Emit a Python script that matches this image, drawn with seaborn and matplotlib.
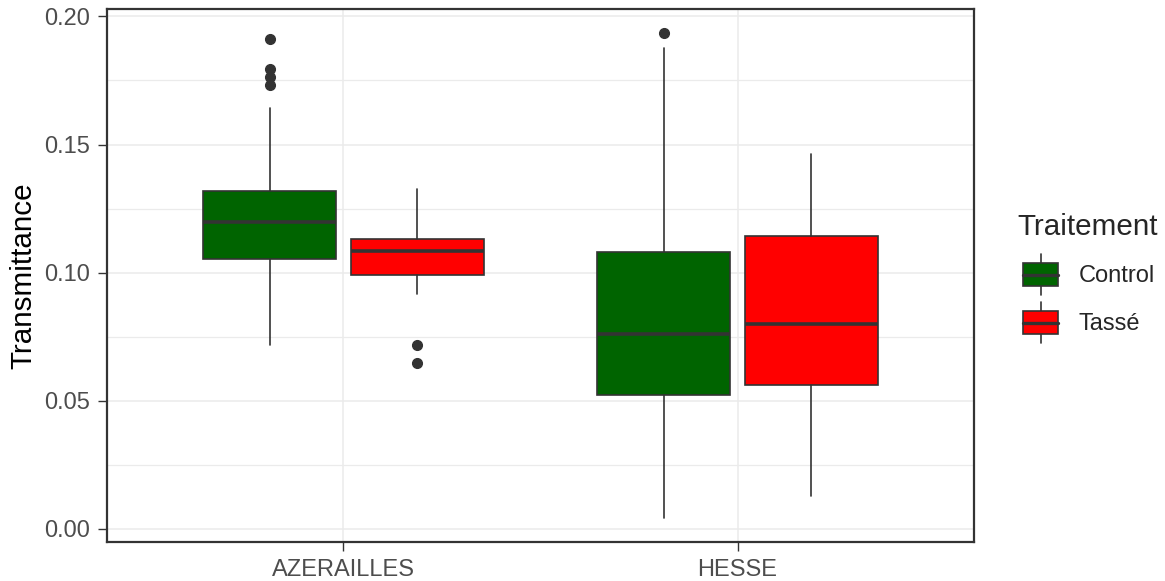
import matplotlib
matplotlib.use("Agg")
import matplotlib.pyplot as plt
import seaborn as sns
from matplotlib.legend_handler import HandlerBase
from matplotlib.patches import Rectangle, Patch
from matplotlib.lines import Line2D
from matplotlib.ticker import MultipleLocator, FormatStrFormatter

# --- data (one summary per site x treatment) ---
sites = ["AZERAILLES", "HESSE"]
treatments = ["Control", "Tassé"]
box_colors = ["#006400", "#FF0000"]

# [site][treatment]
whislo = [[0.0717, 0.0916], [0.0043, 0.0130]]
q1 = [[0.1055, 0.0991], [0.0521, 0.0561]]
med = [[0.1198, 0.1086], [0.0760, 0.0800]]
q3 = [[0.1320, 0.1130], [0.1082, 0.1143]]
whishi = [[0.1642, 0.1328], [0.1876, 0.1464]]
fliers = [
    [[0.1913, 0.1796, 0.1763, 0.1734], [0.0719, 0.0647]],
    [[0.1936], []],
]

LINE = "#333333"
GRID = "#EBEBEB"

sns.set_theme(style="whitegrid")
plt.rcParams["font.family"] = ["Liberation Sans", "DejaVu Sans"]


class BoxKey(HandlerBase):
    """ggplot-like boxplot legend key, sized from the font size."""

    def create_artists(self, legend, orig_handle, xdescent, ydescent,
                       width, height, fontsize, trans):
        x0, y0 = -xdescent, -ydescent
        cx = x0 + width / 2
        cy = y0 + height / 2
        wh = 0.86 * fontsize   # half whisker span
        bh = 0.5 * fontsize    # half box height
        fc = orig_handle.get_facecolor()
        lo = Line2D([cx, cx], [cy - wh, cy - bh], color=LINE, lw=1.2,
                    transform=trans)
        hi = Line2D([cx, cx], [cy + bh, cy + wh], color=LINE, lw=1.2,
                    transform=trans)
        box = Rectangle((x0 + 0.125 * width, cy - bh), 0.75 * width, 2 * bh,
                        facecolor=fc, edgecolor=LINE, lw=1.2, transform=trans)
        mid = Line2D([x0 + 0.125 * width, x0 + 0.875 * width], [cy, cy],
                     color=LINE, lw=2.4, transform=trans)
        return [lo, hi, box, mid]


fig = plt.figure(figsize=(11.65, 5.81), dpi=100)
ax = fig.add_axes([107 / 1165, 1 - 542 / 581, (974 - 107) / 1165, (542 - 9) / 581])

dodge = 0.1875
stats, positions, facecolors = [], [], []
for i, site in enumerate(sites):
    for j, trt in enumerate(treatments):
        stats.append({
            "whislo": whislo[i][j], "q1": q1[i][j], "med": med[i][j],
            "q3": q3[i][j], "whishi": whishi[i][j], "fliers": fliers[i][j],
            "label": f"{site} {trt}",
        })
        positions.append(i + (j * 2 - 1) * dodge)
        facecolors.append(box_colors[j])

bp = ax.bxp(
    stats, positions=positions, widths=0.3375, patch_artist=True,
    showcaps=False, manage_ticks=False,
    boxprops=dict(edgecolor=LINE, linewidth=1.2),
    medianprops=dict(color=LINE, linewidth=2.6, solid_capstyle="butt"),
    whiskerprops=dict(color=LINE, linewidth=1.2),
    flierprops=dict(marker="o", markerfacecolor=LINE, markeredgecolor=LINE,
                    markersize=7),
)
for patch, fc in zip(bp["boxes"], facecolors):
    patch.set_facecolor(fc)
    patch.set_zorder(2)

ax.set_xlim(-0.6, 1.6)
ax.set_ylim(-0.0051, 0.2029)
ax.set_xticks(range(len(sites)))
ax.set_xticklabels(sites)
ax.yaxis.set_major_locator(MultipleLocator(0.05))
ax.yaxis.set_minor_locator(MultipleLocator(0.025))
ax.yaxis.set_major_formatter(FormatStrFormatter("%.2f"))

ax.set_facecolor("white")
ax.grid(False)
ax.grid(which="major", color=GRID, linewidth=1.1)
ax.grid(which="minor", axis="y", color=GRID, linewidth=0.9)
ax.set_axisbelow(True)
for sp in ax.spines.values():
    sp.set_visible(True)
    sp.set_color(LINE)
    sp.set_linewidth(1.6)

ax.tick_params(which="major", direction="out", length=6.5, width=1.0,
               color=LINE, labelcolor="#4D4D4D", labelsize=17, pad=5.5,
               bottom=True, left=True)
ax.tick_params(which="minor", length=0)

ax.set_xlabel("")
ax.set_ylabel("Transmittance", fontsize=21.3, color="black", labelpad=5)

handles = [Patch(facecolor=c) for c in box_colors]
fig.legend(handles, treatments, title="Traitement",
           handler_map={Patch: BoxKey()},
           loc="upper left", bbox_to_anchor=(1017 / 1165, 1 - 213 / 581),
           frameon=False, fontsize=17, title_fontsize=21.3,
           handlelength=2.0, handleheight=1.51, labelspacing=0.81,
           handletextpad=0.6, borderpad=0, borderaxespad=0,
           alignment="left")

fig.savefig("out.png", dpi=100)
